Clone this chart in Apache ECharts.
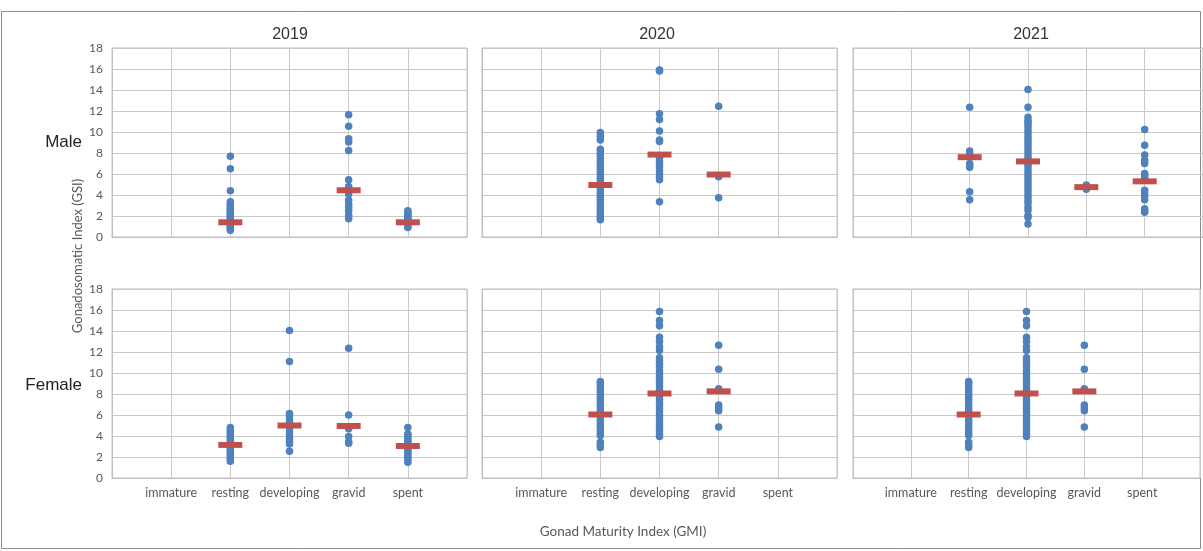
<!DOCTYPE html>
<html>
<head>
<meta charset="utf-8">
<script src="https://cdn.jsdelivr.net/npm/echarts@6/dist/echarts.min.js"></script>
<style>html,body{margin:0;padding:0;background:#fff}#c{width:1203px;height:551px}</style>
</head>
<body>
<div id="c"></div>
<script>
const categories = ['immature', 'resting', 'developing', 'gravid', 'spent'];
const years = ['2019', '2020', '2021'];
const sexes = ['Male', 'Female'];

// Male 2019
const m2019Resting = [0.65, 0.8, 0.95, 1.1, 1.25, 1.4, 1.55, 1.7, 1.85, 2.0, 2.15, 2.3, 2.45, 2.6, 2.8, 3.0, 3.2, 3.35, 4.4, 6.5, 7.7];
const m2019Gravid = [1.75, 2.05, 2.5, 2.8, 3.1, 3.5, 4.1, 4.8, 5.45, 8.25, 9.05, 9.35, 10.55, 11.65];
const m2019Spent = [0.9, 1.05, 1.2, 1.35, 1.5, 1.65, 1.8, 1.95, 2.1, 2.25, 2.4, 2.5];
const m2019Mean = [null, 1.4, null, 4.45, 1.4];

// Male 2020
const m2020Resting = [1.65, 1.85, 2.1, 2.4, 2.7, 3.0, 3.3, 3.6, 3.9, 4.2, 4.5, 4.8, 5.1, 5.4, 5.7, 6.0, 6.3, 6.6, 6.9, 7.2, 7.5, 7.8, 8.1, 8.35, 9.25, 9.6, 9.95];
const m2020Developing = [3.35, 5.45, 5.7, 6.0, 6.3, 6.6, 6.9, 7.2, 7.5, 7.75, 9.1, 9.25, 10.1, 11.2, 11.75, 15.8, 15.9];
const m2020Gravid = [3.75, 5.75, 12.45];
const m2020Mean = [null, 4.95, 7.85, 5.95, null];

// Male 2021
const m2021Resting = [3.55, 4.3, 6.65, 6.85, 7.0, 7.95, 8.2, 12.35];
const m2021Developing = [1.25, 1.85, 2.05, 2.55, 2.85, 3.25, 3.5, 3.8, 4.1, 4.4, 4.7, 5.0, 5.3, 5.6, 5.9, 6.2, 6.5, 6.8, 7.1, 7.4, 7.7, 8.0, 8.3, 8.6, 8.9, 9.2, 9.5, 9.8, 10.1, 10.4, 10.7, 10.9, 11.1, 11.4, 12.35, 14.05];
const m2021Gravid = [4.55, 4.65, 4.8, 4.95];
const m2021Spent = [2.35, 2.5, 2.7, 3.55, 3.9, 4.2, 4.45, 5.7, 5.9, 6.05, 7.0, 7.3, 7.8, 8.75, 10.25];
const m2021Mean = [null, 7.6, 7.2, 4.75, 5.3];

// Female 2019
const f2019Resting = [1.6, 1.8, 2.0, 2.2, 2.4, 2.6, 2.8, 3.0, 3.2, 3.4, 3.6, 3.8, 4.0, 4.2, 4.4, 4.6, 4.8];
const f2019Developing = [2.55, 3.25, 3.5, 3.8, 4.1, 4.4, 4.7, 5.0, 5.3, 5.6, 5.9, 6.15, 11.1, 14.05];
const f2019Gravid = [3.3, 3.45, 3.95, 4.7, 6.0, 12.35];
const f2019Spent = [1.5, 1.7, 1.9, 2.1, 2.3, 2.5, 2.7, 2.9, 3.1, 3.3, 3.5, 3.7, 3.9, 4.1, 4.2, 4.8];
const f2019Mean = [null, 3.15, 5.0, 4.95, 3.05];

// Female 2020
const f2020Resting = [2.9, 3.15, 3.4, 4.05, 4.3, 4.6, 4.9, 5.2, 5.5, 5.8, 6.1, 6.4, 6.7, 7.0, 7.3, 7.6, 7.9, 8.2, 8.5, 8.8, 9.05, 9.2];
const f2020Developing = [3.95, 4.2, 4.5, 4.8, 5.1, 5.4, 5.7, 6.0, 6.3, 6.6, 6.9, 7.2, 7.5, 7.8, 8.1, 8.4, 8.7, 9.0, 9.3, 9.6, 9.9, 10.2, 10.55, 10.9, 11.2, 11.45, 12.15, 12.5, 13.0, 13.4, 14.5, 15.0, 15.85];
const f2020Gravid = [4.85, 6.4, 6.7, 6.95, 8.5, 10.35, 12.65];
const f2020Mean = [null, 6.05, 8.05, 8.25, null];

// Female 2021
const f2021Resting = [2.9, 3.15, 3.4, 4.05, 4.3, 4.6, 4.9, 5.2, 5.5, 5.8, 6.1, 6.4, 6.7, 7.0, 7.3, 7.6, 7.9, 8.2, 8.5, 8.8, 9.05, 9.2];
const f2021Developing = [3.95, 4.2, 4.5, 4.8, 5.1, 5.4, 5.7, 6.0, 6.3, 6.6, 6.9, 7.2, 7.5, 7.8, 8.1, 8.4, 8.7, 9.0, 9.3, 9.6, 9.9, 10.2, 10.55, 10.9, 11.2, 11.45, 12.15, 12.5, 13.0, 13.4, 14.5, 15.0, 15.85];
const f2021Gravid = [4.85, 6.4, 6.7, 6.95, 8.5, 10.35, 12.65];
const f2021Mean = [null, 6.05, 8.05, 8.25, null];

const panels = [
  { sets: [null, m2019Resting, null, m2019Gravid, m2019Spent], mean: m2019Mean },
  { sets: [null, m2020Resting, m2020Developing, m2020Gravid, null], mean: m2020Mean },
  { sets: [null, m2021Resting, m2021Developing, m2021Gravid, m2021Spent], mean: m2021Mean },
  { sets: [null, f2019Resting, f2019Developing, f2019Gravid, f2019Spent], mean: f2019Mean },
  { sets: [null, f2020Resting, f2020Developing, f2020Gravid, null], mean: f2020Mean },
  { sets: [null, f2021Resting, f2021Developing, f2021Gravid, null], mean: f2021Mean }
];

const colLeft = [112, 482, 853];
const rowTop = [48, 289];
const W = 355, H = 189;
const calibri = 'Lato, "Open Sans", sans-serif';
const gridColor = '#c9c9c9';

const grids = [], xAxes = [], yAxes = [], series = [];
panels.forEach((p, i) => {
  const row = Math.floor(i / 3), col = i % 3;
  grids.push({ left: colLeft[col], top: rowTop[row], width: W, height: H, show: true, borderColor: '#bfbfbf', borderWidth: 1 });
  xAxes.push({
    gridIndex: i, type: 'value', min: 0, max: 6, interval: 1,
    axisLine: { show: true, lineStyle: { color: '#bfbfbf' } },
    axisTick: { show: false },
    splitLine: { show: true, lineStyle: { color: gridColor } },
    axisLabel: {
      show: row === 1, margin: 8, color: '#595959', fontFamily: calibri, fontSize: 12.5,
      formatter: v => categories[v - 1] || ''
    }
  });
  yAxes.push({
    gridIndex: i, type: 'value', min: 0, max: 18, interval: 2,
    axisLine: { show: true, lineStyle: { color: '#bfbfbf' } },
    axisTick: { show: false },
    splitLine: { show: true, lineStyle: { color: gridColor } },
    axisLabel: { show: col === 0, margin: 9, color: '#595959', fontFamily: calibri, fontSize: 12 }
  });
  const pts = [];
  p.sets.forEach((arr, c) => { if (arr) arr.forEach(v => pts.push([c + 1, v])); });
  series.push({
    type: 'scatter', xAxisIndex: i, yAxisIndex: i, data: pts, symbol: 'circle', symbolSize: 7.5,
    itemStyle: { color: '#4F81BD', opacity: 1 }, z: 3, silent: true
  });
  const means = [];
  p.mean.forEach((v, c) => { if (v !== null) means.push([c + 1, v]); });
  series.push({
    type: 'scatter', xAxisIndex: i, yAxisIndex: i, data: means, symbol: 'rect', symbolSize: [24, 6],
    itemStyle: { color: '#C0504D', opacity: 1 }, z: 4, silent: true
  });
});

const yearX = [290, 657, 1031];
const graphic = [
  { type: 'rect', shape: { x: 1.5, y: 11.5, width: 1199, height: 537 }, style: { fill: 'none', stroke: '#8c8c8c', lineWidth: 1 }, silent: true }
];
years.forEach((y, k) => graphic.push({
  type: 'text', x: yearX[k], y: 35, silent: true,
  style: { text: y, fill: '#333', font: '16px "Liberation Sans", Arial, sans-serif', textAlign: 'center', textVerticalAlign: 'middle' }
}));
const sexY = [142, 385];
sexes.forEach((s, k) => graphic.push({
  type: 'text', x: 82, y: sexY[k], silent: true,
  style: { text: s, fill: '#222', font: '17px "Liberation Sans", Arial, sans-serif', textAlign: 'right', textVerticalAlign: 'middle' }
}));
graphic.push({
  type: 'text', x: 78, y: 256, rotation: Math.PI / 2, silent: true,
  style: { text: 'Gonadosomatic Index (GSI)', fill: '#595959', font: '13px Lato, sans-serif', textAlign: 'center', textVerticalAlign: 'middle' }
});
graphic.push({
  type: 'text', x: 623, y: 532, silent: true,
  style: { text: 'Gonad Maturity Index (GMI)', fill: '#595959', font: '13.5px Lato, sans-serif', textAlign: 'center', textVerticalAlign: 'middle' }
});

const chart = echarts.init(document.getElementById('c'), null, { renderer: 'canvas' });
chart.setOption({
  animation: false,
  backgroundColor: '#fff',
  grid: grids, xAxis: xAxes, yAxis: yAxes, series: series, graphic: graphic
});
</script>
</body>
</html>
